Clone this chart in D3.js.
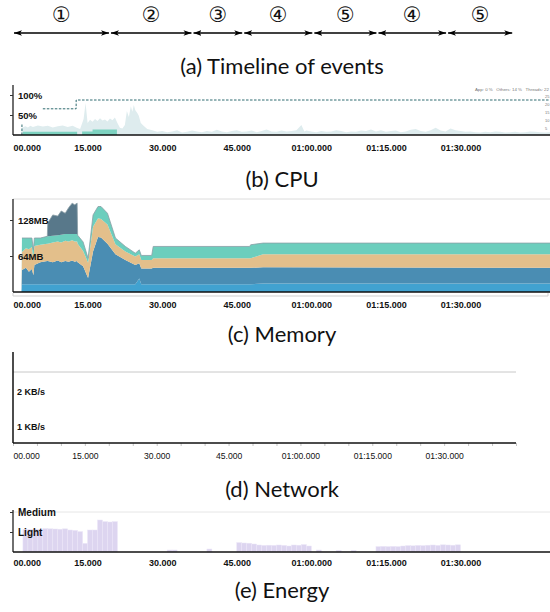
<!DOCTYPE html>
<html lang="en">
<head>
<meta charset="utf-8">
<title>Timeline of events, CPU, Memory, Network, Energy</title>
<script src="https://cdn.jsdelivr.net/npm/d3@7"></script>
<style>
  body { margin: 0; background: #fff; }
  .caption { font-family: Lato, "Open Sans", sans-serif; font-size: 22px; fill: #111; }
  .phase { font-family: "DejaVu Sans", "Noto Sans CJK JP", sans-serif; font-size: 21px; fill: #111; }
</style>
</head>
<body>
<svg id="chart" width="550" height="612"></svg>
<script>
// ---- data (time in seconds) ----
var timeTicks = [0, 15, 30, 45, 60, 75, 90];
var phaseBounds = [0, 19.5, 36.1, 46.3, 60.4, 73.3, 87.3, 100.6];
var phaseLabels = ["\u2460", "\u2461", "\u2462", "\u2463", "\u2464", "\u2463", "\u2464"];
var captions = ["(a) Timeline of events", "(b) CPU", "(c) Memory", "(d) Network", "(e) Energy"];

// CPU: [time, %]
var cpuOthers = [[0,0],[1.6,0],[1.8,18],[2.5,22],[3,19],[3.5,23],[4,20],[5,24],[6,21],[7,23],[8,19],[9,22],
  [10,24],[11,20],[12,23],[12.8,18],[13.5,15],[14.2,40],[14.6,80],[15,30],[15.5,38],[16,33],[16.5,40],
  [17,35],[17.5,42],[18,36],[18.5,39],[19,34],[19.5,41],[20,37],[20.5,44],[21,30],[21.5,18],[22,16],
  [22.5,25],[22.9,60],[23.3,45],[23.7,72],[24,58],[24.3,75],[24.6,62],[25,55],[25.3,48],[25.7,30],
  [26.2,24],[27,15],[28,12],[29,8],[30,10],[31,7],[32,9],[33,12],[34,6],[35,8],[36,11],[37,9],[38,7],
  [39,10],[40,8],[41,13],[42,9],[43,7],[44,10],[45,12],[46,8],[47,9],[48,11],[49,7],[50,10],[51,14],
  [52,9],[53,8],[54,11],[55,9],[56,10],[57,12],[58,25],[58.6,9],[59,11],[60,9],[61,7],[62,10],[63,8],
  [64,9],[65,12],[66,10],[67,7],[68,9],[69,8],[70,11],[71,10],[72,14],[73,9],[74,12],[75,8],[76,10],
  [77,11],[78,7],[79,9],[80,13],[81,15],[82,10],[83,8],[84,12],[85,18],[86,11],[87,9],[88,16],[89,12],
  [90,10],[91,8],[92,9],[93,7],[94,6],[95,8],[96,7],[97,9],[98,8],[99,6],[100,7],[101,8],[102,6],
  [103,7],[104,9],[105,8],[106,7],[107,6],[108,7]];
var cpuApp = [[0,0],[2.0,8],[12.9,0],[13.9,9],[16.0,14],[20.9,0],[108,0]];
var threads = [[6.0,17],[12.7,22.5],[108,22.5]];
var cpuTicks = [50, 100];
var threadTicks = [5, 10, 15, 20, 25];
var cpuLegend = "App: 0 %   Others: 14 %   Threads: 22";

// Memory (MB) per layer, bottom to top
var memTime     = [0, 1.7, 1.8, 2.6, 3.2, 3.8, 4.1, 4.3, 5.5, 6.9, 7.0, 8.0, 9.0, 9.7, 10.5, 11.2, 11.9, 12.4, 12.9, 13.0, 14.1, 15.1, 16.1, 17.1, 17.7, 19.0, 20.6, 22.6, 24.6, 25.4, 25.8, 27.9, 28.2, 47.6, 47.8, 50.3, 108];
var memBase     = [0, 0, 14, 14, 14, 14, 14, 14, 14, 14, 14, 14, 14, 14, 14, 14, 14, 14, 14, 14, 14, 14, 14, 14, 14, 14, 14, 14, 14, 24, 14, 14, 14, 14, 14, 15, 15];
var memNative   = [0, 0, 25, 29, 22, 27, 16, 34, 39, 41, 41, 39, 42, 39, 41, 40, 42, 40, 41, 39, 32, 11, 58, 84, 83, 72, 53, 43, 34, 27, 28, 28, 29, 29, 29, 29, 28];
var memGraphics = [0, 0, 32, 35, 40, 39, 30, 34, 31, 31, 31, 35, 34, 35, 36, 36, 36, 36, 35, 33, 27, 27, 44, 33, 33, 34, 18, 15, 15, 16, 15, 15, 17, 17, 17, 23, 24];
var memJava     = [0, 0, 25, 18, 20, 16, 15, 14, 12, 13, 13, 12, 11, 14, 12, 13, 11, 13, 13, 15, 16, 8, 21, 21, 22, 20, 11, 9, 6, 8, 8, 8, 21, 21, 24, 20, 20];
var memOther    = [0, 0, 0, 0, 0, 0, 0, 0, 0, 0, 24, 37, 34, 42, 37, 47, 55, 52, 55, 0, 0, 0, 0, 0, 0, 0, 0, 0, 0, 0, 0, 0, 0, 0, 0, 0, 0];
var memKeys = ["memBase", "memNative", "memGraphics", "memJava", "memOther"];
var memColors = ["#41a2d0", "#4a8db3", "#e3bf8b", "#6ccebd", "#58788a"];
var memTicks = [64, 128];

// Network (KB/s)
var netTicks = [1, 2];

// Energy level per second (0 none, 1 light, 2 medium)
var energyLevel = [0, 0, 1.13, 1.13, 1.14, 1.13, 1.17, 1.16, 1.15, 1.14, 1.16, 1.1, 1.08, 1.02, 0.43, 1.1, 1.1, 1.6, 1.52, 1.5,
  1.52, 0, 0, 0, 0, 0, 0, 0, 0, 0, 0, 0.1, 0.1, 0, 0, 0, 0, 0, 0, 0.15,
  0, 0, 0, 0, 0, 0.47, 0.45, 0.44, 0.4, 0.35, 0.33, 0.34, 0.33, 0.35, 0.33, 0.3, 0.35, 0.34, 0.37, 0.3,
  0, 0.1, 0, 0, 0, 0.08, 0, 0, 0.08, 0, 0, 0, 0, 0.27, 0.28, 0.27, 0.28, 0.27, 0.3, 0.32,
  0.31, 0.33, 0.32, 0.34, 0.35, 0.33, 0.36, 0.35, 0.34, 0.36, 0, 0, 0, 0, 0, 0, 0, 0, 0, 0,
  0, 0, 0, 0, 0, 0, 0, 0];
var energyTicks = [1, 2];
var energyNames = ["None", "Light", "Medium"];

// ---- setup ----
var svg = d3.select("#chart");
var xT = d3.scaleLinear().domain([0, 108]).range([13, 550]);
var xN = d3.scaleLinear().domain([0, 105]).range([13, 516]);

function pad(n) { return (n < 10 ? "0" : "") + n; }
function fmtTime(t) {
    if (t < 60) return pad(t) + ".000";
    return pad(Math.floor(t / 60)) + ":" + pad(t % 60) + ".000";
}

// bottom time labels, first one left aligned
function timeLabels(scale, y, bold) {
    var g = svg.append("g")
        .attr("transform", "translate(0," + y + ")")
        .call(d3.axisBottom(scale).tickValues(timeTicks).tickSize(0).tickPadding(10).tickFormat(fmtTime));
    g.select(".domain").remove();
    g.selectAll("text")
        .attr("font-family", "'Liberation Sans', Arial, sans-serif")
        .attr("font-size", bold ? 9 : 8.6)
        .attr("font-weight", bold ? "bold" : "normal")
        .attr("fill", "#111");
    g.select(".tick text").attr("text-anchor", "start");
    return g;
}

// left value labels with small tick marks
function valueLabels(scale, ticks, fmt, size) {
    var g = svg.append("g")
        .attr("transform", "translate(13,0)")
        .call(d3.axisRight(scale).tickValues(ticks).tickSize(-3).tickPadding(5).tickFormat(fmt));
    g.select(".domain").remove();
    g.selectAll("line").attr("stroke", "#333");
    g.selectAll("text")
        .attr("font-family", "'Liberation Sans', Arial, sans-serif")
        .attr("font-size", size)
        .attr("font-weight", "bold")
        .attr("fill", "#111");
    return g;
}

function hline(x1, x2, y, color, w) {
    svg.append("line").attr("x1", x1).attr("x2", x2).attr("y1", y).attr("y2", y)
       .attr("stroke", color).attr("stroke-width", w);
}
function vline(x, y1, y2, color, w) {
    svg.append("line").attr("x1", x).attr("x2", x).attr("y1", y1).attr("y2", y2)
       .attr("stroke", color).attr("stroke-width", w);
}

// ---- (a) timeline ----
var defs = svg.append("defs");
defs.append("marker")
    .attr("id", "head")
    .attr("viewBox", "0 -4 10 8")
    .attr("refX", 10).attr("refY", 0)
    .attr("markerUnits", "userSpaceOnUse")
    .attr("markerWidth", 8).attr("markerHeight", 7)
    .attr("orient", "auto-start-reverse")
    .append("path")
    .attr("d", "M0,-3.5L10,0L0,3.5L2.5,0Z")
    .attr("fill", "#000");

var tlY = 33;
var segs = d3.range(phaseLabels.length).map(function(i) {
    return {a: phaseBounds[i], b: phaseBounds[i + 1], label: phaseLabels[i]};
});
svg.selectAll("line.seg")
   .data(segs)
   .enter()
   .append("line")
   .attr("class", "seg")
   .attr("x1", function(d) { return xT(d.a) + 1; })
   .attr("x2", function(d) { return xT(d.b) - 1; })
   .attr("y1", tlY).attr("y2", tlY)
   .attr("stroke", "#000")
   .attr("stroke-width", 1.3)
   .attr("marker-start", "url(#head)")
   .attr("marker-end", "url(#head)");
svg.selectAll("text.phase")
   .data(segs)
   .enter()
   .append("text")
   .attr("class", "phase")
   .attr("x", function(d) { return (xT(d.a) + xT(d.b)) / 2; })
   .attr("y", 22)
   .attr("text-anchor", "middle")
   .text(function(d) { return d.label; });

// ---- (b) CPU ----
var yC = d3.scaleLinear().domain([0, 100]).range([135, 95]);
var yThr = d3.scaleLinear().domain([0, 25]).range([136, 96]);

svg.append("path")
   .datum(cpuOthers)
   .attr("fill", "#deecee")
   .attr("d", d3.area().x(function(d) { return xT(d[0]); }).y0(yC(0)).y1(function(d) { return yC(d[1]); }));
svg.append("path")
   .datum(cpuApp)
   .attr("fill", "#7dd2c0")
   .attr("d", d3.area().curve(d3.curveStepAfter).x(function(d) { return xT(d[0]); }).y0(yC(0)).y1(function(d) { return yC(d[1]); }));
svg.append("path")
   .datum(threads)
   .attr("fill", "none")
   .attr("stroke", "#2f6b70")
   .attr("stroke-width", 1)
   .attr("stroke-dasharray", "2.5,1.5")
   .attr("d", d3.line().curve(d3.curveStepAfter).x(function(d) { return xT(d[0]); }).y(function(d) { return yThr(d[1]); }));
// app start marker
svg.append("line")
   .attr("x1", xT(1.8)).attr("x2", xT(1.8))
   .attr("y1", yC(0)).attr("y2", yC(27))
   .attr("stroke", "#2f6b70").attr("stroke-dasharray", "2.5,1.5");

vline(13, 85, 135, "#222", 1.3);
hline(13, 550, 135, "#111", 1.6);
valueLabels(yC, cpuTicks, function(d) { return d + "%"; }, 9.5);
timeLabels(xT, 135, true);

svg.append("text")
   .attr("x", 549).attr("y", 91)
   .attr("text-anchor", "end")
   .attr("font-family", "'Liberation Sans', Arial, sans-serif")
   .attr("font-size", 4.4).attr("fill", "#777")
   .attr("xml:space", "preserve")
   .text(cpuLegend);
var thrAxis = svg.append("g")
    .attr("transform", "translate(544,0)")
    .call(d3.axisRight(yThr).tickValues(threadTicks).tickSize(0).tickPadding(1));
thrAxis.select(".domain").remove();
thrAxis.selectAll("text").attr("font-size", 4).attr("fill", "#777");

// ---- (c) Memory ----
var yM = d3.scaleLinear().domain([0, 128]).range([292, 220]);
var memRows = memTime.map(function(t, i) {
    return {t: t, memBase: memBase[i], memNative: memNative[i], memGraphics: memGraphics[i],
            memJava: memJava[i], memOther: memOther[i]};
});
var memStack = d3.stack().keys(memKeys)(memRows);
var memArea = d3.area()
    .x(function(d) { return xT(d.data.t); })
    .y0(function(d) { return yM(d[0]); })
    .y1(function(d) { return yM(d[1]); });

hline(13, 550, 199, "#dcdcdc", 1);
svg.selectAll("path.mem")
   .data(memStack)
   .enter()
   .append("path")
   .attr("class", "mem")
   .attr("fill", function(d, i) { return memColors[i]; })
   .attr("d", memArea);
svg.append("path")
   .datum(memRows)
   .attr("fill", "none")
   .attr("stroke", "#8a9ea6")
   .attr("stroke-width", 0.8)
   .attr("d", d3.line()
       .x(function(d) { return xT(d.t); })
       .y(function(d) { return yM(d.memBase + d.memNative + d.memGraphics + d.memJava + d.memOther); })
       .defined(function(d) { return d.t >= 1.8; }));

vline(13, 199, 292, "#222", 1.3);
hline(13, 550, 292, "#111", 1.6);
svg.append("path")
   .attr("d", "M13,293V296H548V293")
   .attr("fill", "none").attr("stroke", "#cfcfcf").attr("stroke-width", 1);
valueLabels(yM, memTicks, function(d) { return d + "MB"; }, 9.5);
timeLabels(xT, 292, true).selectAll("text").attr("y", 10);

// ---- (d) Network ----
var yN = d3.scaleLinear().domain([0, 2]).range([462, 392]);
hline(13, 516, 372, "#c8c8c8", 1);
var minor = svg.append("g")
    .attr("transform", "translate(0,443)")
    .call(d3.axisBottom(xN).tickValues(d3.range(0, 106, 5)).tickSize(3).tickFormat(""));
minor.select(".domain").remove();
minor.selectAll("line").attr("stroke", "#c4c4c4");
vline(13, 352, 443, "#111", 1.5);
hline(13, 516, 443, "#111", 1.6);
var netLab = svg.append("g")
    .selectAll("text")
    .data(netTicks)
    .enter()
    .append("text")
    .attr("x", 17)
    .attr("y", function(d) { return yN(d); })
    .attr("dy", "0.32em")
    .attr("font-family", "'Liberation Sans', Arial, sans-serif")
    .attr("font-size", 9)
    .attr("font-weight", "bold")
    .attr("fill", "#111")
    .text(function(d) { return d + " KB/s"; });
timeLabels(xN, 443, false).selectAll("text").attr("y", 10);

// ---- (e) Energy ----
var yE = d3.scaleLinear().domain([0, 2]).range([552, 512]);
hline(13, 550, 512, "#e6e6e6", 1);
svg.selectAll("rect.energy")
   .data(energyLevel)
   .enter()
   .append("rect")
   .attr("class", "energy")
   .attr("x", function(d, i) { return xT(i); })
   .attr("y", function(d) { return yE(d); })
   .attr("width", function(d, i) { return xT(i + 1) - xT(i); })
   .attr("height", function(d) { return yE(0) - yE(d); })
   .attr("fill", "#ddd5f0")
   .attr("stroke", "#ebe6f7")
   .attr("stroke-width", 0.5);
vline(13, 510, 552, "#222", 1.3);
hline(13, 550, 552, "#111", 1.6);
valueLabels(yE, energyTicks, function(d) { return energyNames[d]; }, 10);
timeLabels(xT, 552, true).selectAll("text").attr("y", 8);

// ---- captions ----
var capY = [74, 187, 342, 497, 598];
svg.selectAll("text.caption")
   .data(captions)
   .enter()
   .append("text")
   .attr("class", "caption")
   .attr("x", 282)
   .attr("y", function(d, i) { return capY[i]; })
   .attr("text-anchor", "middle")
   .text(function(d) { return d; });
</script>
</body>
</html>
